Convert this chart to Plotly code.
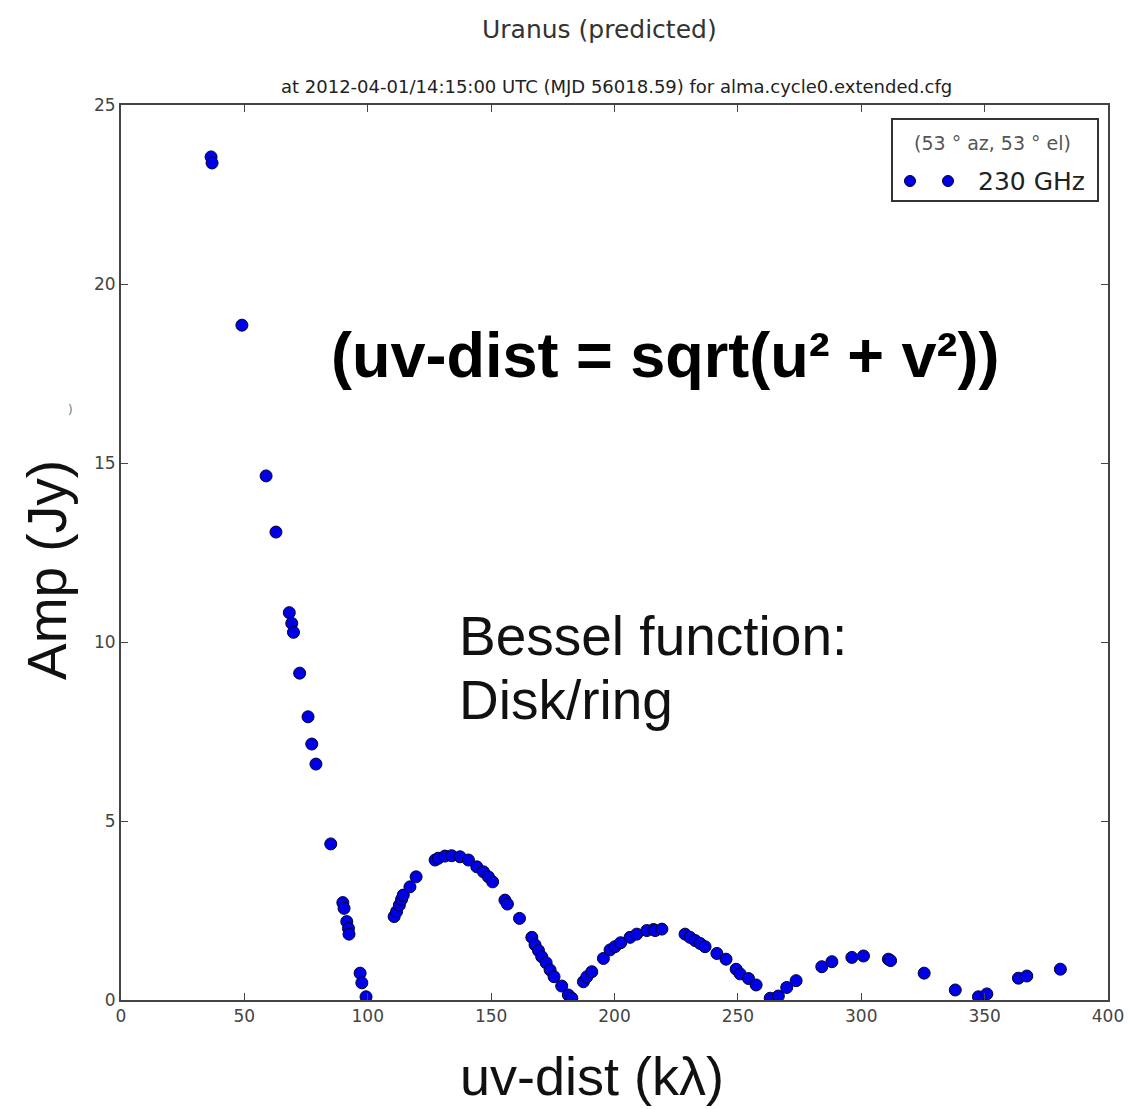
import plotly.graph_objects as go

uvdist = [36.5, 36.9, 49.0, 58.8, 62.8, 68.2, 69.2, 69.9, 72.4, 75.8, 77.3, 79.0, 85.0,
          89.9, 90.4, 91.5, 92.2, 92.4, 96.9, 97.6, 99.3,
          110.7, 111.7, 112.8, 113.7, 114.4, 117.1, 119.6,
          127.3, 128.6, 131.3, 134.0, 137.4, 140.8, 144.2, 146.9, 148.9, 150.6,
          155.6, 156.6, 161.5, 166.5, 167.8, 169.2, 170.5, 172.3, 173.9, 175.5, 178.6, 181.3, 182.7,
          187.4, 188.8, 190.8, 195.5, 198.2, 200.2, 202.5, 206.3, 209.0, 213.1, 215.8, 216.5, 219.2,
          228.6, 230.6, 232.7, 234.7, 236.7, 241.5, 245.2, 249.3, 250.9, 254.3, 257.4,
          263.1, 266.4, 269.8, 273.6,
          284.0, 288.1, 296.2, 300.9, 311.0, 311.9, 325.5, 338.1, 347.5, 350.9, 363.7, 367.1, 380.7]
amp = [23.55, 23.38, 18.85, 14.64, 13.07, 10.82, 10.52, 10.27, 9.13, 7.91, 7.15, 6.59, 4.36,
       2.72, 2.56, 2.19, 2.00, 1.84, 0.75, 0.48, 0.09,
       2.33, 2.47, 2.65, 2.81, 2.93, 3.16, 3.44,
       3.91, 3.96, 4.02, 4.03, 4.00, 3.91, 3.72, 3.58, 3.44, 3.30,
       2.79, 2.68, 2.28, 1.75, 1.54, 1.38, 1.21, 1.04, 0.84, 0.65, 0.39, 0.14, 0.05,
       0.51, 0.65, 0.79, 1.16, 1.40, 1.49, 1.60, 1.75, 1.84, 1.94, 1.97, 1.94, 1.98,
       1.84, 1.75, 1.66, 1.58, 1.49, 1.30, 1.14, 0.86, 0.73, 0.60, 0.42,
       0.05, 0.11, 0.35, 0.54,
       0.93, 1.07, 1.19, 1.23, 1.14, 1.10, 0.75, 0.28, 0.09, 0.17, 0.61, 0.67, 0.86]

x_ticks = [0, 50, 100, 150, 200, 250, 300, 350, 400]
y_ticks = [0, 5, 10, 15, 20, 25]

series_name = "230 GHz"
legend_title = "(53 ° az, 53 ° el)"

DOT = "#0000e6"
DOT_EDGE = "#000033"

fig = go.Figure()
fig.add_trace(go.Scatter(
    x=uvdist, y=amp, mode="markers", name=series_name, showlegend=False,
    marker=dict(color=DOT, size=12, line=dict(color=DOT_EDGE, width=1)),
))

axis_common = dict(
    showline=True, linecolor="#444444", linewidth=2, mirror="ticks",
    ticks="inside", ticklen=7, tickcolor="#444444", tickwidth=1,
    showgrid=False, zeroline=False, automargin=False,
    tickfont=dict(family="DejaVu Sans", size=17, color="#444444"),
)

fig.update_xaxes(range=[0, 400], tickvals=x_ticks, ticktext=[str(v) for v in x_ticks],
                 **axis_common)
fig.update_yaxes(range=[0, 25], tickvals=y_ticks, ticktext=[str(v) for v in y_ticks],
                 **axis_common)

L, T, PW, PH = 121, 105, 987, 895


def px(xp):
    return (xp - L) / PW


def py(yp):
    return (T + PH - yp) / PH


# legend box (matplotlib style, two sample points)
shapes = [
    dict(type="rect", xref="paper", yref="paper", x0=px(892), x1=px(1098), y0=py(201), y1=py(119),
         line=dict(color="#333333", width=2), fillcolor="white", layer="above"),
]
for cx in (910, 948):
    shapes.append(dict(type="circle", xref="paper", yref="paper",
                       x0=px(cx - 5.5), x1=px(cx + 5.5), y0=py(181 + 5.5), y1=py(181 - 5.5),
                       line=dict(color=DOT_EDGE, width=1), fillcolor=DOT, layer="above"))

fig.update_layout(
    width=1129, height=1109,
    margin=dict(l=121, r=21, t=105, b=109),
    paper_bgcolor="white", plot_bgcolor="white",
    showlegend=False,
    shapes=shapes,
    annotations=[
        dict(text="Uranus (predicted)", xref="paper", yref="paper", x=px(599), y=py(29),
             showarrow=False, xanchor="center", yanchor="middle",
             font=dict(family="DejaVu Sans", size=25, color="#333333")),
        dict(text="at 2012-04-01/14:15:00 UTC (MJD 56018.59) for alma.cycle0.extended.cfg",
             xref="paper", yref="paper", x=px(616), y=py(86), showarrow=False,
             xanchor="center", yanchor="middle",
             font=dict(family="DejaVu Sans", size=18, color="#222222")),
        dict(text=legend_title, xref="paper", yref="paper", x=px(992), y=py(143),
             showarrow=False, xanchor="center", yanchor="middle",
             font=dict(family="DejaVu Sans", size=19, color="#555555")),
        dict(text=series_name, xref="paper", yref="paper", x=px(976), y=py(181),
             showarrow=False, xanchor="left", yanchor="middle",
             font=dict(family="DejaVu Sans", size=25, color="#222222")),
        dict(text=")", xref="paper", yref="paper", x=px(70), y=py(410), showarrow=False,
             xanchor="center", yanchor="middle",
             font=dict(family="DejaVu Sans", size=12, color="#777777")),
        dict(text="uv-dist (kλ)", xref="paper", yref="paper", x=px(592), y=py(1076),
             showarrow=False, xanchor="center", yanchor="middle",
             font=dict(family="Liberation Sans", size=54, color="#111111")),
        dict(text="Amp (Jy)", xref="paper", yref="paper", x=px(47), y=py(570), textangle=-90,
             showarrow=False, xanchor="center", yanchor="middle",
             font=dict(family="Liberation Sans", size=55, color="#111111")),
        dict(text="<b>(uv-dist = sqrt(u² + v²))</b>", xref="paper", yref="paper",
             x=px(665), y=py(355), showarrow=False, xanchor="center", yanchor="middle",
             font=dict(family="Liberation Sans", size=63, color="#000000")),
        dict(text="Bessel function:", xref="paper", yref="paper",
             x=px(457), y=py(636), showarrow=False, xanchor="left", yanchor="middle",
             font=dict(family="Liberation Sans", size=55, color="#111111")),
        dict(text="Disk/ring", xref="paper", yref="paper",
             x=px(457), y=py(700), showarrow=False, xanchor="left", yanchor="middle",
             font=dict(family="Liberation Sans", size=55, color="#111111")),
    ],
)

fig.write_html("out.html", config={"displayModeBar": False},
               post_script="document.body.style.margin='0';document.body.style.overflow='hidden';")
